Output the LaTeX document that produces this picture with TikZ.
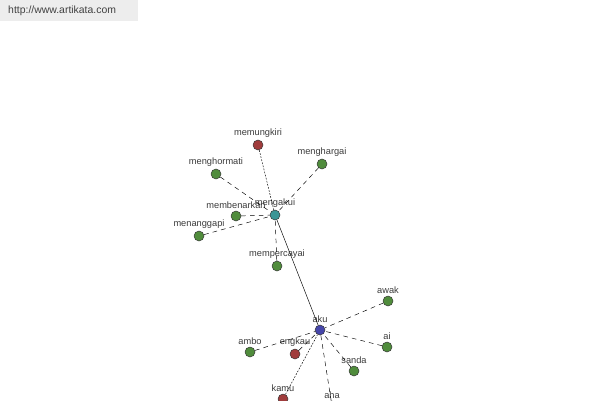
\documentclass[tikz,border=0pt]{standalone}
\usepackage{fontspec}
\setmainfont{Liberation Sans}

\definecolor{gnode}{RGB}{80,140,60}
\definecolor{rnode}{RGB}{160,60,60}
\definecolor{tnode}{RGB}{60,150,150}
\definecolor{bnode}{RGB}{70,70,170}
\definecolor{ltext}{RGB}{60,60,60}

\begin{document}
\begin{tikzpicture}[x=0.03cm, y=-0.03cm,
    word/.style={circle, draw=black!80, line width=0.4pt, minimum size=0.3cm, inner sep=0pt},
    lbl/.style={text=ltext, font=\fontsize{7.9}{8}\selectfont, inner sep=0pt},
    link/.style={thin, dash pattern=on 4pt off 3.5pt},
    dotlink/.style={thin, dash pattern=on 1.5pt off 1.2pt}]

	% Canvas
	\useasboundingbox (0,0) rectangle (600,400);
	\clip (0,0) rectangle (600,400);
	\fill[white] (0,0) rectangle (600,400);

	% Site label
	\fill[black!7] (0,0) rectangle (138,21);
	\node[anchor=west, text=black!75, font=\fontsize{8.9}{9}\selectfont, inner sep=0pt] (site) at (8,11) {http://www.artikata.com};

	% Hub words
	\node[word, fill=tnode, label={[lbl, label distance=1.5pt]above:mengakui}] (mengakui) at (275,215) {};
	\node[word, fill=bnode, label={[lbl, label distance=1.5pt]above:aku}] (aku) at (320,330) {};

	% Words around mengakui
	\node[word, fill=rnode, label={[lbl, label distance=1.5pt]above:memungkiri}] (memungkiri) at (258,145) {};
	\node[word, fill=gnode, label={[lbl, label distance=1.5pt]above:menghargai}] (menghargai) at (322,164) {};
	\node[word, fill=gnode, label={[lbl, label distance=1.5pt]above:menghormati}] (menghormati) at (216,174) {};
	\node[word, fill=gnode, label={[lbl, label distance=1.5pt]above:membenarkan}] (membenarkan) at (236,216) {};
	\node[word, fill=gnode, label={[lbl, label distance=1.5pt]above:menanggapi}] (menanggapi) at (199,236) {};
	\node[word, fill=gnode, label={[lbl, label distance=1.5pt]above:mempercayai}] (mempercayai) at (277,266) {};

	% Words around aku
	\node[word, fill=gnode, label={[lbl, label distance=1.5pt]above:awak}] (awak) at (388,301) {};
	\node[word, fill=gnode, label={[lbl, label distance=1.5pt]above:ai}] (ai) at (387,347) {};
	\node[word, fill=gnode, label={[lbl, label distance=1.5pt]above:ambo}] (ambo) at (250,352) {};
	\node[word, fill=rnode, label={[lbl, label distance=1.5pt]above:engkau}] (engkau) at (295,354) {};
	\node[word, fill=gnode, label={[lbl, label distance=1.5pt]above:sanda}] (sanda) at (354,371) {};
	\node[word, fill=rnode, label={[lbl, label distance=1.5pt]above:kamu}] (kamu) at (283,399) {};
	\node[word, fill=gnode, label={[lbl, label distance=1.5pt]above:aha}] (aha) at (332,406) {};

	% Links
	\draw[thin] (mengakui) -- (aku);
	\draw[dotlink] (memungkiri) -- (mengakui);
	\foreach \w in {menghargai,menghormati,membenarkan,menanggapi,mempercayai}
		\draw[link] (\w) -- (mengakui);
	\foreach \w in {awak,ai,ambo,engkau,sanda,aha}
		\draw[link] (\w) -- (aku);
	\draw[dotlink] (kamu) -- (aku);

\end{tikzpicture}
\end{document}
